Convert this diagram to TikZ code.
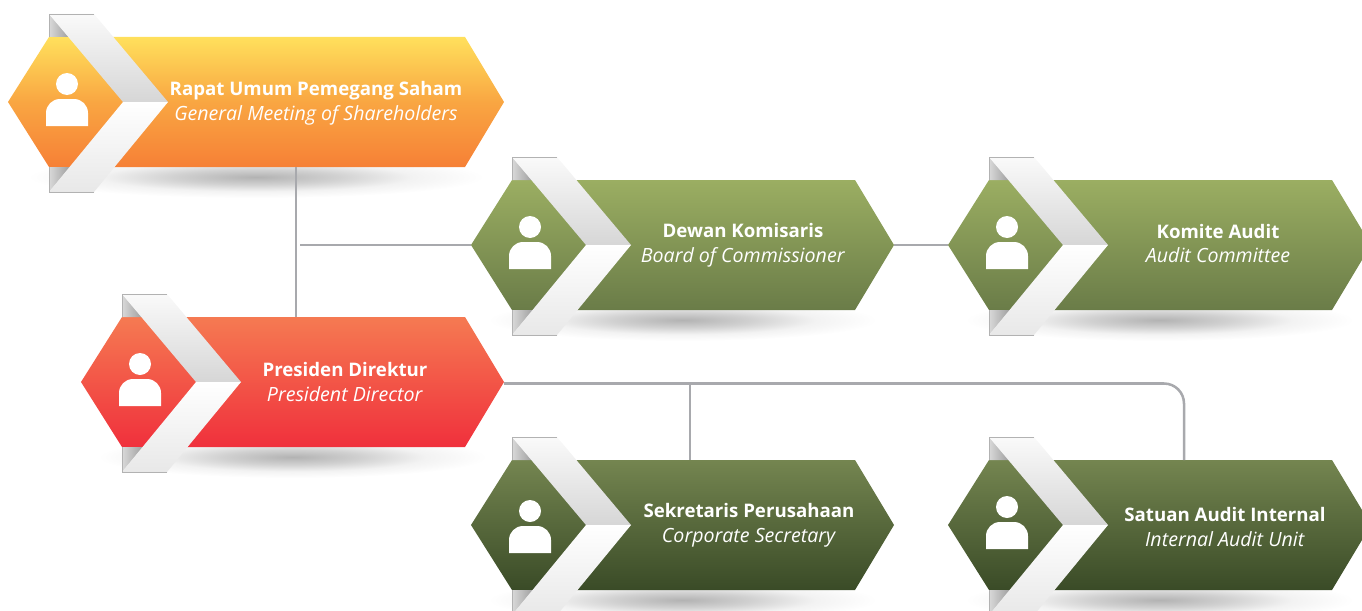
\documentclass[tikz,border=0pt]{standalone}
\usepackage{fontspec}
\setmainfont{Open Sans}
\usepackage{xcolor}
\definecolor{linkgray}{HTML}{A8A9AD}
\pgfdeclareradialshading{cardshadow}{\pgfpoint{0bp}{0bp}}{color(0bp)=(black!30); color(9bp)=(black!18); color(17bp)=(black!5); color(25bp)=(white); color(50bp)=(white)}
\newcommand{\cardname}[1]{\textbf{#1}}
\newcommand{\cardsub}[1]{{\fontsize{14.7}{18.4}\selectfont\textit{#1}}}
\tikzset{
    link/.style={draw=linkgray, line width=1.9pt},
    cardanchor/.style={inner sep=0pt, outer sep=0pt},
    cardtext/.style={text=white, align=center, font=\fontsize{14}{18.4}\selectfont},
    foldpart/.style={left color=black!15, right color=black!38},
    cardorange/.style={top color={rgb,255:red,255;green,224;blue,92}, bottom color={rgb,255:red,246;green,128;blue,54}, middle color={rgb,255:red,249;green,166;blue,66}},
    cardred/.style={top color={rgb,255:red,245;green,122;blue,82}, bottom color={rgb,255:red,240;green,48;blue,60}},
    cardolive/.style={top color={rgb,255:red,155;green,174;blue,98}, bottom color={rgb,255:red,106;green,124;blue,72}},
    carddark/.style={top color={rgb,255:red,116;green,133;blue,80}, bottom color={rgb,255:red,58;green,75;blue,39}}
}
% name, left x, centre y, width, colour style, icon shift
\newcommand{\orgcard}[6]{
    \begin{scope}[shift={(#2,#3)}]
        \shade[shading=cardshadow] (#4/2,75) ellipse [x radius=#4*0.46, y radius=21];
        \shade[#5] (0,0) -- (41,-65) -- (#4-39,-65) -- (#4,0) -- (#4-39,65) -- (41,65) -- cycle;
        \node[cardanchor, minimum width=#4*0.75pt, minimum height=97.5pt] (#1) at (#4/2,0) {};
        \shade[foldpart] (41,-88) -- (41,-65) -- (61,-65) -- cycle;
        \shade[foldpart] (41,65) -- (41,90) -- (62,65) -- cycle;
        \shade[top color=black!2, bottom color=black!16] (41,-88) -- (86,-88) -- (160,0) -- (115,0) -- cycle;
        \shade[top color=white, bottom color=black!9] (115,0) -- (160,0) -- (86,90) -- (41,90) -- cycle;
        \draw[black!30, line width=0.5pt] (86,-88) -- (41,-88) -- (41,-65);
        \draw[black!30, line width=0.5pt] (86,90) -- (41,90) -- (41,65);
        \fill[white] (59,#6-18) circle [radius=11];
        \fill[white] (38,#6+24) [rounded corners=10.5pt] -- (38,#6-3) -- (80,#6-3) [sharp corners] -- (80,#6+24) -- cycle;
    \end{scope}
}

\begin{document}
\begin{tikzpicture}[x=0.75pt, y=-0.75pt]

    \path[use as bounding box, clip] (0,0) rectangle (1362,610);

    \orgcard{rups}{8}{102}{496}{cardorange}{0}
    \orgcard{dewan}{471}{245}{423}{cardolive}{0}
    \orgcard{komite}{948}{245}{423}{cardolive}{0}
    \orgcard{presiden}{81}{382}{423}{cardred}{0}
    \orgcard{sekretaris}{471}{525}{423}{carddark}{4}
    \orgcard{satuan}{948}{525}{423}{carddark}{0}

    \node[cardtext] (rupstext) at (316,103.5) {\cardname{Rapat Umum Pemegang Saham}\\\cardsub{General Meeting of Shareholders}};
    \node[cardtext] (dewantext) at (743,245.5) {\cardname{Dewan Komisaris}\\\cardsub{Board of Commissioner}};
    \node[cardtext] (komitetext) at (1218,243.5) {\cardname{Komite Audit}\\\cardsub{Audit Committee}};
    \node[cardtext] (presidentext) at (345,382) {\cardname{Presiden Direktur}\\\cardsub{President Director}};
    \node[cardtext] (sekretaristext) at (749,525.5) {\cardname{Sekretaris Perusahaan}\\\cardsub{Corporate Secretary}};
    \node[cardtext] (satuantext) at (1225,527) {\cardname{Satuan Audit Internal}\\\cardsub{Internal Audit Unit}};

    \coordinate (trunk) at (296,245);
    \coordinate (branch) at (300,245);
    \coordinate (secdrop) at (690,383.5);
    \coordinate (auditdrop) at (1184,383.5);

    \draw[link] (trunk |- rups.south) -- (trunk |- presiden.north);
    \draw[link] (branch) -- (dewan.west);
    \draw[link] (dewan.east) -- (komite.west);
    \draw[link, rounded corners=15pt] (presiden.east |- auditdrop) -- (auditdrop) -- (auditdrop |- satuan.north);
    \draw[link] (secdrop) -- (secdrop |- sekretaris.north);

\end{tikzpicture}
\end{document}
